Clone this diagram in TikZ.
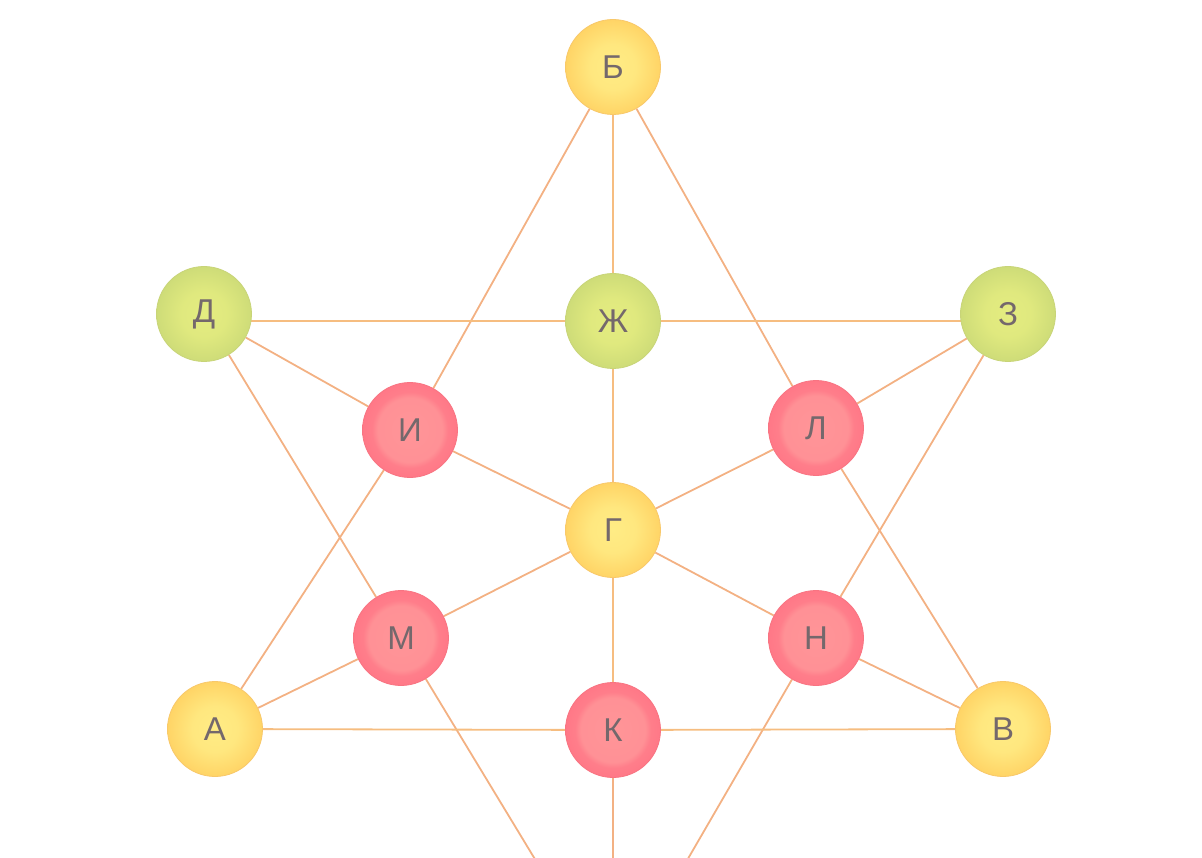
\documentclass[tikz,border=0pt]{standalone}
\usepackage{fontspec}
\setmainfont{Liberation Sans}
\usetikzlibrary{backgrounds}
\definecolor{edgec}{HTML}{F3B183}
\definecolor{edgey}{HTML}{F8C57E}
\definecolor{txt}{HTML}{74686C}
\definecolor{yin}{HTML}{FFEC85}
\definecolor{yout}{HTML}{FFD466}
\definecolor{yrim}{HTML}{F8C86A}
\definecolor{gin}{HTML}{E4EC80}
\definecolor{gout}{HTML}{CEDC78}
\definecolor{grim}{HTML}{C8D478}
\definecolor{rin}{HTML}{FF9598}
\definecolor{rout}{HTML}{FF7887}
\definecolor{rrim}{HTML}{F87482}
\pgfdeclareradialshading{yshade}{\pgfpoint{0bp}{0bp}}{color(0bp)=(yin); color(12bp)=(yin!80!yout); color(25bp)=(yout); color(50bp)=(yout)}
\pgfdeclareradialshading{gshade}{\pgfpoint{0bp}{0bp}}{color(0bp)=(gin); color(12bp)=(gin!80!gout); color(25bp)=(gout); color(50bp)=(gout)}
\pgfdeclareradialshading{rshade}{\pgfpoint{0bp}{0bp}}{color(0bp)=(rin); color(17bp)=(rin!85!rout); color(20bp)=(rout!80!rin); color(25bp)=(rout); color(50bp)=(rout)}
\tikzset{
  vtx/.style={circle, minimum size=95pt, inner sep=0pt, text=txt,
    font=\fontsize{33}{33}\selectfont, line width=0.8pt},
  yel/.style={vtx, draw=yrim, shading=yshade},
  grn/.style={vtx, draw=grim, shading=gshade},
  red/.style={vtx, draw=rrim, shading=rshade},
  edge/.style={draw=edgec, line width=1.8pt},
  hedge/.style={draw=edgey!60!edgec, line width=1.8pt}
}
\begin{document}
\begin{tikzpicture}[x=1pt,y=-1pt]
\useasboundingbox (0,0) rectangle (1202,858);
\node[yel] (B) at (613,67) {Б};
\node[grn] (D) at (204,314) {Д};
\node[grn] (Zh) at (613,321) {Ж};
\node[grn] (Z) at (1008,314) {З};
\node[red] (I) at (410,430) {И};
\node[red] (L) at (816,428) {Л};
\node[yel] (G) at (613,530) {Г};
\node[red] (M) at (401,638) {М};
\node[red] (N) at (816,638) {Н};
\node[yel] (A) at (215,729) {А};
\node[red] (K) at (613,730) {К};
\node[yel] (V) at (1003,729) {В};
\coordinate (P) at (613,988);
\begin{scope}[on background layer]
\clip (0,0) rectangle (1202,858);
\foreach \a/\b in {B/I,B/L,D/M,M/P,K/P,I/G,G/L,M/G,G/N,I/A,L/V,Z/L,Z/N,N/P,A/M,N/V,D/I}
  \draw[edge] (\a) -- (\b);
\foreach \a/\b in {B/Zh,Zh/G,G/K,A/K,K/V}
  \draw[hedge] (\a) -- (\b);
\draw[hedge] ([yshift=-7pt]D.center) -- (Zh);
\draw[hedge] (Zh) -- ([yshift=-7pt]Z.center);
\end{scope}
\end{tikzpicture}
\end{document}
